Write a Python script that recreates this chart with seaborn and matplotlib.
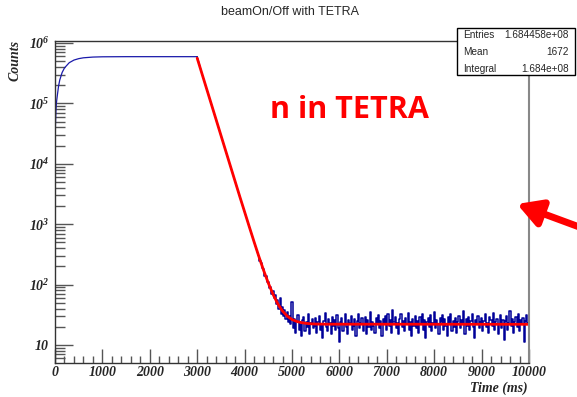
import numpy as np
import pandas as pd
import matplotlib
matplotlib.use("Agg")
import matplotlib.pyplot as plt
import seaborn as sns
from matplotlib.patches import Rectangle
from matplotlib.ticker import FixedLocator, FixedFormatter, MultipleLocator, LogLocator, NullFormatter

# ---------------- data ----------------
rise_t = [0, 10, 20, 30, 50, 75, 100, 150, 200, 300, 400, 500, 600, 800, 1000, 1500, 3000]
rise_counts = [1.6e4, 4.6e4, 7.5e4, 1.02e5, 1.37e5, 1.93e5, 2.43e5, 3.24e5, 3.86e5,
               4.71e5, 5.21e5, 5.50e5, 5.68e5, 5.84e5, 5.90e5, 5.93e5, 5.93e5]

decay_t = [3000, 3010, 3100, 3200, 3300, 3400, 3500, 3600, 3700, 3800, 3900, 4000,
           4100, 4200, 4290]
decay_counts = [5.93e5, 5.6e5, 3.11e5, 1.73e5, 9.62e4, 5.35e4, 2.97e4, 1.65e4, 9180,
                5105, 2838, 1600, 899, 510, 300]

tail_start, tail_step = 4300, 25
tail_counts = [
    300, 250, 230, 188, 180, 140, 138, 112, 110, 88, 92, 70, 78, 60, 66, 48, 55, 40,
    60, 33, 42, 30, 38, 27, 35, 24, 30, 22,
    51, 19, 27, 16, 25, 31, 18, 22, 14, 26, 29, 17, 24, 20, 33, 15, 23, 27, 19, 21,
    28, 16, 24, 30, 18, 22, 13, 25, 34, 20, 17, 27, 23, 15, 29, 21, 26, 18, 31, 19,
    11, 24, 28, 17, 22, 33, 20, 15, 26, 23, 30, 18, 21, 27, 14, 25, 32, 19, 23, 28,
    17, 22, 29, 15, 26, 20, 35, 18, 24, 21, 16, 28, 23, 31, 19, 25, 14, 27, 22, 30,
    18, 33, 21, 26, 16, 38, 24, 29, 19, 23, 15, 27, 32, 20, 25, 17, 28, 22, 34, 18,
    24, 14, 27, 21, 30, 19, 25, 16, 29, 22, 33, 18, 26, 13, 24, 28, 20, 31, 17, 23,
    35, 19, 26, 22, 15, 28, 24, 31, 18, 27, 21, 14, 29, 23, 33, 17, 25, 20, 28, 16,
    24, 30, 19, 26, 22, 36, 15, 27, 21, 29, 18, 25, 32, 20, 13, 26, 23, 30, 19, 24,
    28, 17, 25, 33, 20, 23, 16, 29, 26, 21, 34, 18, 24, 27, 15, 22, 31, 19, 26, 12,
    25, 30, 18, 23, 36, 21, 27, 16, 24, 29, 20, 33, 17, 26, 22, 28, 11, 25, 31, 23,
]
tail_t = tail_start + tail_step * np.arange(len(tail_counts))

fit_t = [3000, 3100, 3200, 3300, 3400, 3500, 3600, 3700, 3800, 3900, 4000, 4100, 4200,
         4300, 4400, 4500, 4600, 4700, 4800, 4900, 5000, 5100, 5200, 5300, 5400, 5500,
         5700, 10000]
fit_counts = [5.6e5, 3.11e5, 1.73e5, 9.62e4, 5.35e4, 2.97e4, 1.65e4, 9180, 5105, 2838,
              1600, 899, 510, 293, 173, 106, 69, 48, 36.4, 30, 26.4, 24.5, 23.4, 22.8,
              22.4, 22.2, 22.1, 22.0]

title = "beamOn/Off with TETRA"
stats_labels = ["Entries", "Mean", "Integral"]
stats_values = ["1.684458e+08", "1672", "1.684e+08"]
y_tick_vals = [10, 100, 1e3, 1e4, 1e5, 1e6]
y_tick_labels = ["$10$", "$10^{2}$", "$10^{3}$", "$10^{4}$", "$10^{5}$", "$10^{6}$"]

# ---------------- style ----------------
sns.set_theme(style="white")
plt.rcParams["font.family"] = ["Liberation Sans", "DejaVu Sans"]
plt.rcParams["mathtext.fontset"] = "custom"
plt.rcParams["mathtext.rm"] = "Liberation Serif:italic:bold"
plt.rcParams["mathtext.it"] = "Liberation Serif:italic:bold"
plt.rcParams["mathtext.bf"] = "Liberation Serif:italic:bold"

W, H = 577, 397
fig = plt.figure(figsize=(W / 100, H / 100), dpi=100)
fig.patch.set_facecolor("white")
ax = fig.add_axes([55 / W, 1 - 363 / H, (529 - 55) / W, (363 - 40.7) / H])

blue = "#000099"
sns.lineplot(x=rise_t, y=rise_counts, ax=ax, color="#1a1aaa", lw=0.9, estimator=None, sort=False)
sns.lineplot(x=decay_t, y=decay_counts, ax=ax, color=blue, lw=0.9, estimator=None, sort=False)
sns.lineplot(x=tail_t, y=tail_counts, ax=ax, color=blue, lw=1.1, estimator=None, sort=False,
             drawstyle="steps-mid")
sns.lineplot(x=fit_t, y=fit_counts, ax=ax, color="#ff0000", lw=2.0, estimator=None, sort=False)

ax.set_yscale("log")
ax.set_xlim(0, 10000)
ax.set_ylim(5.03, 1.09e6)

# ticks ROOT-like
ax.xaxis.set_major_locator(MultipleLocator(1000))
ax.xaxis.set_minor_locator(MultipleLocator(200))
ax.yaxis.set_major_locator(FixedLocator(y_tick_vals))
ax.yaxis.set_major_formatter(FixedFormatter(y_tick_labels))
ax.yaxis.set_minor_locator(LogLocator(base=10, subs=np.arange(2, 10), numticks=20))
ax.yaxis.set_minor_formatter(NullFormatter())
ax.tick_params(axis="both", which="both", bottom=True, left=True, top=False, right=False)
ax.tick_params(axis="x", which="major", direction="in", length=10, width=1, color="#555555",
               pad=2, labelsize=10)
ax.tick_params(axis="x", which="minor", direction="in", length=5, width=1, color="#555555")
ax.tick_params(axis="y", which="major", direction="in", length=13, width=1, color="#555555",
               pad=4, labelsize=10)
ax.tick_params(axis="y", which="minor", direction="in", length=7, width=1, color="#555555")
for lab in ax.get_xticklabels():
    lab.set_fontfamily("Liberation Serif")
    lab.set_fontweight("bold")
    lab.set_fontstyle("italic")

for s in ["left", "bottom", "top"]:
    ax.spines[s].set_color("#333333")
    ax.spines[s].set_linewidth(1.0)
ax.spines["right"].set_color("#888888")
ax.spines["right"].set_linewidth(1.5)

ax.set_xlabel("")
ax.set_ylabel("")
fig.text(528 / W, 1 - 388 / H, "Time (ms)", ha="right", va="center",
         family="Liberation Serif", weight="bold", style="italic", size=10)
fig.text(15 / W, 1 - 40 / H, "Counts", ha="center", va="top", rotation=90,
         family="Liberation Serif", weight="bold", style="italic", size=10)

fig.text(290 / W, 1 - 12 / H, title, ha="center", va="center", size=9,
         family="Liberation Sans")

ax.text(270 / W, 1 - 118 / H, "n in TETRA", transform=fig.transFigure, ha="left",
        va="baseline", color="#ff0000", size=22, weight="bold", family="Open Sans")

# stats box
x0, x1, y0, y1 = 457, 575, 28, 75
fig.patches.append(Rectangle((x0 / W, 1 - y1 / H), (x1 - x0) / W, (y1 - y0) / H,
                             transform=fig.transFigure, facecolor="white",
                             edgecolor="black", lw=1.0, zorder=5))
for i, (lab, val) in enumerate(zip(stats_labels, stats_values)):
    yy = 1 - (35.5 + 16.5 * i) / H
    fig.text(463 / W, yy, lab, ha="left", va="center", size=7.2, zorder=6,
             family="Liberation Sans")
    fig.text(569 / W, yy, val, ha="right", va="center", size=7.2, zorder=6,
             family="Liberation Sans")

# red arrow outside the frame
ax.annotate("", xy=(517, H - 204), xycoords="figure pixels",
            xytext=(582, H - 228), textcoords="figure pixels",
            arrowprops=dict(arrowstyle="-|>,head_length=0.8,head_width=0.45",
                            lw=5, color="#ff0000", shrinkA=0, shrinkB=0,
                            mutation_scale=18),
            annotation_clip=False)

fig.savefig("out.png", dpi=100)
